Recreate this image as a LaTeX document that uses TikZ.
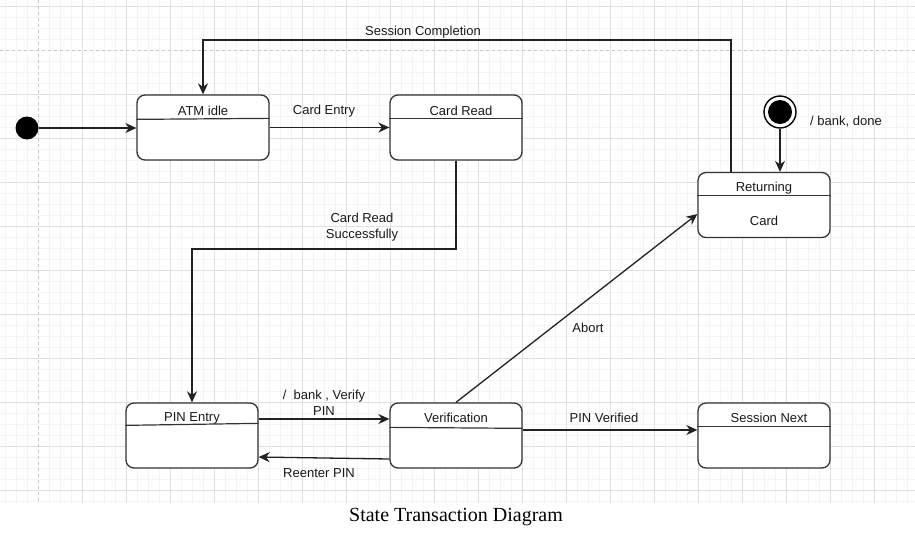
\documentclass[tikz,border=0pt]{standalone}
\usepackage{fontspec}
\setmainfont{Liberation Sans}
\newfontfamily\capfont{Liberation Serif}
\usetikzlibrary{arrows.meta}
\definecolor{boxc}{HTML}{333333}
\definecolor{arrc}{HTML}{222222}
\definecolor{minorc}{HTML}{F4F4F4}
\definecolor{majorc}{HTML}{E0E0E0}
\definecolor{dashc}{HTML}{C8C8C8}
\begin{document}
\begin{tikzpicture}[x=1pt,y=-1pt,
  state/.style={draw=boxc, line width=1.3pt, rounded corners=8pt, fill=white,
    minimum width=132pt, minimum height=65pt, inner sep=0pt},
  divline/.style={draw=boxc, line width=1.2pt},
  title/.style={font=\fontsize{13}{15}\selectfont, inner sep=0pt, text=black!90},
  lbl/.style={font=\fontsize{13}{16}\selectfont, inner sep=0pt, align=center, text=black!90},
  arr/.style={draw=arrc, line width=1.3pt, -{Stealth[length=11pt,width=10pt,inset=3.5pt]}},
  minorline/.style={draw=minorc, line width=0.8pt},
  majorline/.style={draw=majorc, line width=0.8pt},
  dashline/.style={draw=dashc, line width=0.9pt, dash pattern=on 3pt off 3pt}
]
\useasboundingbox (0,0) rectangle (915,547);
\fill[white] (0,0) rectangle (915,547);
% grid
\begin{scope}
\clip (0,0) rectangle (915,503);
\foreach \x in {5,16,...,915} \draw[minorline] (\x,0) -- (\x,503);
\foreach \y in {6,17,...,503} \draw[minorline] (0,\y) -- (915,\y);
\foreach \x in {82,126,...,915} \draw[majorline] (\x,0) -- (\x,503);
\foreach \y in {6,94,138,...,503} \draw[majorline] (0,\y) -- (915,\y);
\draw[dashline] (38,0) -- (38,503);
\draw[dashline] (0,50) -- (915,50);
\end{scope}

% states
\node[state] (atm) at (203,127.5) {};
\node[state] (cardread) at (456,127.5) {};
\node[state] (returning) at (764,205) {};
\node[state] (pin) at (192,435.5) {};
\node[state] (verif) at (456,435.5) {};
\node[state] (next) at (764,435.5) {};

\draw[divline] ([yshift=-25pt]atm.north west) -- ([yshift=-24pt]atm.north east);
\draw[divline] ([yshift=-24pt]cardread.north west) -- ([yshift=-24pt]cardread.north east);
\draw[divline] ([yshift=-24pt]returning.north west) -- ([yshift=-24pt]returning.north east);
\draw[divline] ([yshift=-23pt]pin.north west) -- ([yshift=-21pt]pin.north east);
\draw[divline] ([yshift=-25pt]verif.north west) -- ([yshift=-26pt]verif.north east);
\draw[divline] ([yshift=-24pt]next.north west) -- ([yshift=-24pt]next.north east);

\node[title] (t1) at (203,111) {ATM idle};
\node[title] (t2) at (461,111) {Card Read};
\node[title] (t3) at (764,188) {Returning};
\node[title] (t3b) at (764,221) {Card};
\node[title] (t4) at (192,418) {PIN Entry};
\node[title] (t5) at (456,418) {Verification};
\node[title] (t6) at (769,418) {Session Next};

% pseudo states
\node[circle, fill=black, minimum size=23pt, inner sep=0pt] (init) at (27,128) {};
\node[circle, draw=black, line width=1.4pt, fill=white, minimum size=32pt, inner sep=0pt] (fin) at (780,112) {};
\fill[black] (fin.center) circle (12pt);

% transitions
\draw[arr] (init.east) -- (atm.west |- init.east);
\draw[arr] (atm.east) -- (cardread.west);
\node[lbl] (lce) at (324,111) {Card Entry};

\coordinate (sc1) at (731,40);
\coordinate (sc2) at (203,40);
\draw[arr] ([xshift=-33pt]returning.north) -- (sc1) -- (sc2) -- (atm.north);
\node[lbl] (lsc) at (423,32) {Session Completion};

\coordinate (cr1) at (192,249);
\draw[arr] (cardread.south) |- (cr1) -- (pin.north);
\node[lbl] (lcr) at (362,227) {Card Read\\Successfully};

\draw[arr] (fin.south) -- (fin.south |- returning.north);
\node[lbl] (lbd) at (846,122) {/ bank, done};

\draw[arr] ([yshift=16.5pt]pin.east) -- ([yshift=16.5pt]verif.west);
\node[lbl] (lbv) at (324,403) {/\ \ bank , Verify\\PIN};

\draw[arr] ([yshift=-23.5pt]verif.west) -- ([yshift=-21.5pt]pin.east);
\node[lbl] (lre) at (319,473) {Reenter PIN};

\draw[arr] ([yshift=5.5pt]verif.east) -- ([yshift=5.5pt]next.west);
\node[lbl] (lpv) at (604,418) {PIN Verified};

\draw[arr] (verif.north) -- ([yshift=-9pt]returning.west);
\node[lbl] (lab) at (588,328) {Abort};

% caption
\node[font=\capfont\fontsize{20}{23}\selectfont, inner sep=0pt] (cap) at (456,517) {State Transaction Diagram};
\end{tikzpicture}
\end{document}
